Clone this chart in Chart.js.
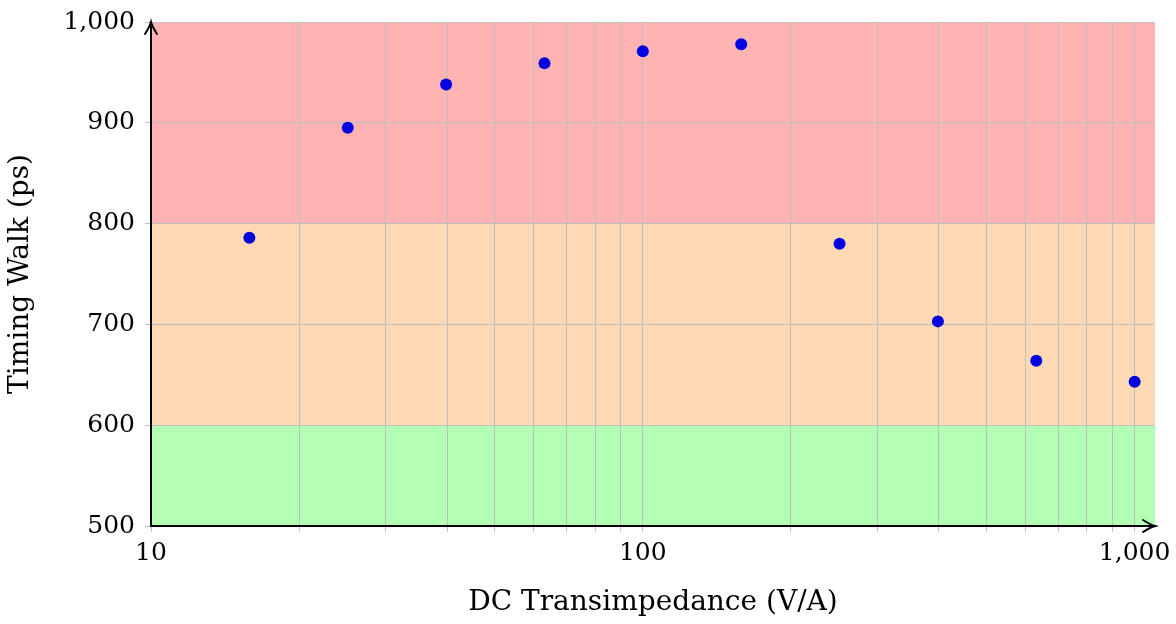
<!DOCTYPE html>
<html>
<head>
<meta charset="utf-8">
<script src="https://cdn.jsdelivr.net/npm/chart.js@4/dist/chart.umd.min.js"></script>
<style>
  html, body { margin: 0; padding: 0; background: #fff; }
  #wrap { width: 1176px; height: 624px; }
</style>
</head>
<body>
<div id="wrap"><canvas id="chart"></canvas></div>
<script>
// data
const transimpedance = [15.85, 25.12, 39.81, 63.1, 100, 158.5, 251.2, 398.1, 631, 1000];
const timingWalk = [786, 895, 938, 959, 971, 978, 780, 703, 664, 643];

// background bands (ps)
const bandLow = [500, 600, 800];
const bandHigh = [600, 800, 1000];
const bandColors = ['#b3ffb3', '#ffd9b3', '#ffb3b3'];

// axis ticks
const xTicks = [10, 20, 30, 40, 50, 60, 70, 80, 90, 100, 200, 300, 400, 500, 600, 700, 800, 900, 1000];
const xLabelled = [10, 100, 1000];
const yTicks = [500, 600, 700, 800, 900, 1000];

const fontFam = '"DejaVu Serif", "Liberation Serif", serif';
const tickFont = { family: fontFam, size: 25 };
const titleFont = { family: fontFam, size: 28 };
const gridCol = '#bfbfbf';

const fmt = v => v.toLocaleString('en-US');

const bandsPlugin = {
    id: 'bands',
    beforeDraw(chart) {
        const { ctx, chartArea, scales } = chart;
        ctx.save();
        for (let i = 0; i < bandLow.length; i++) {
            const top = scales.y.getPixelForValue(bandHigh[i]);
            const bot = scales.y.getPixelForValue(bandLow[i]);
            ctx.fillStyle = bandColors[i];
            ctx.fillRect(chartArea.left, top, chartArea.right - chartArea.left, bot - top);
        }
        ctx.restore();
    }
};

const arrowsPlugin = {
    id: 'arrows',
    afterDraw(chart) {
        const { ctx, chartArea } = chart;
        const l = chartArea.left, t = chartArea.top, r = chartArea.right, b = chartArea.bottom;
        ctx.save();
        ctx.strokeStyle = '#000';
        ctx.lineWidth = 2;
        ctx.lineCap = 'round';
        ctx.beginPath();
        ctx.moveTo(l - 6, t + 12);
        ctx.quadraticCurveTo(l - 1, t + 4, l, t);
        ctx.quadraticCurveTo(l + 1, t + 4, l + 6, t + 12);
        ctx.moveTo(l, t);
        ctx.lineTo(l, b);
        ctx.moveTo(r - 12, b - 6);
        ctx.quadraticCurveTo(r - 4, b - 1, r, b);
        ctx.quadraticCurveTo(r - 4, b + 1, r - 12, b + 6);
        ctx.moveTo(l, b);
        ctx.lineTo(r, b);
        ctx.stroke();
        ctx.restore();
    }
};

window.onload = () => {
    const ctx = document.getElementById('chart').getContext('2d');
    new Chart(ctx, {
        type: 'scatter',
        data: {
            datasets: [{
                label: 'Timing Walk',
                data: transimpedance.map((x, i) => ({ x: x, y: timingWalk[i] })),
                backgroundColor: 'rgb(0,0,225)',
                borderColor: 'rgb(0,0,225)',
                borderWidth: 0,
                pointRadius: 6,
                pointHoverRadius: 6
            }]
        },
        options: {
            responsive: true,
            maintainAspectRatio: false,
            animation: false,
            layout: { padding: { left: 0, top: 22, right: 21, bottom: 0 } },
            plugins: {
                legend: { display: false },
                tooltip: { enabled: false }
            },
            scales: {
                x: {
                    type: 'logarithmic',
                    min: 10,
                    max: 1100,
                    afterBuildTicks: s => { s.ticks = xTicks.map(v => ({ value: v })); },
                    afterFit: s => { s.height = 98; s.paddingLeft = 0; s.paddingRight = 0; },
                    grid: { color: gridCol, lineWidth: 1, tickLength: 6, tickColor: gridCol },
                    border: { color: '#000', width: 2 },
                    ticks: {
                        autoSkip: false,
                        maxRotation: 0,
                        padding: 6,
                        color: '#000',
                        font: tickFont,
                        callback: v => xLabelled.includes(v) ? fmt(v) : ''
                    },
                    title: {
                        display: true,
                        text: 'DC Transimpedance (V/A)',
                        color: '#000',
                        font: titleFont,
                        padding: { top: 0, bottom: 4 }
                    }
                },
                y: {
                    min: 500,
                    max: 1000,
                    afterBuildTicks: s => { s.ticks = yTicks.map(v => ({ value: v })); },
                    afterFit: s => { s.width = 151; s.paddingTop = 0; s.paddingBottom = 0; },
                    grid: { color: gridCol, lineWidth: 1, tickLength: 6, tickColor: gridCol },
                    border: { color: '#000', width: 2 },
                    ticks: {
                        padding: 10,
                        color: '#000',
                        font: tickFont,
                        callback: v => fmt(v)
                    },
                    title: {
                        display: true,
                        text: 'Timing Walk (ps)',
                        color: '#000',
                        font: titleFont,
                        padding: { top: 4, bottom: 0 }
                    }
                }
            }
        },
        plugins: [bandsPlugin, arrowsPlugin]
    });
};
</script>
</body>
</html>
